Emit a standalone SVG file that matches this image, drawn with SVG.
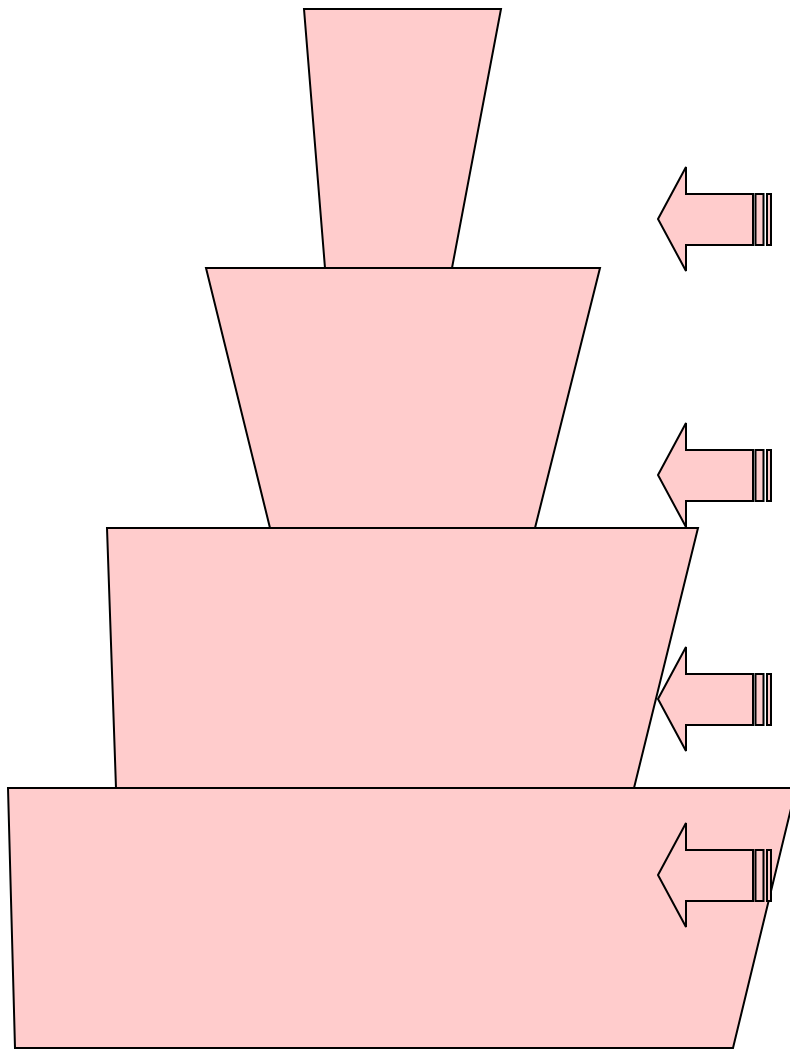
<svg xmlns="http://www.w3.org/2000/svg" width="790" height="1049" viewBox="0 0 790 1049">
<style>
.s{fill:#ffcccc;stroke:#000;stroke-width:2;stroke-linejoin:miter}
</style>
<defs>
<g id="arr">
<polygon class="s" points="-113,0 -85,-52 -85,-25 -18,-25 -18,26 -85,26 -85,52"/>
<rect class="s" x="-15.5" y="-25" width="8" height="51"/>
<rect class="s" x="-4" y="-25" width="4" height="51"/>
</g>
</defs>
<g id="tier1"><polygon class="s" points="304,9 501,9 452,268 325,268"/></g>
<g id="tier2"><polygon class="s" points="206,268 600,268 535,528 270,528"/></g>
<g id="tier3"><polygon class="s" points="107,528 698,528 634,788 116,788"/></g>
<g id="tier4"><polygon class="s" points="8,788 796,788 733,1048 15,1048"/></g>
<g id="connectors">
<use href="#arr" x="771" y="219"/>
<use href="#arr" x="771" y="475"/>
<use href="#arr" x="771" y="699"/>
<use href="#arr" x="771" y="875"/>
</g>
</svg>
